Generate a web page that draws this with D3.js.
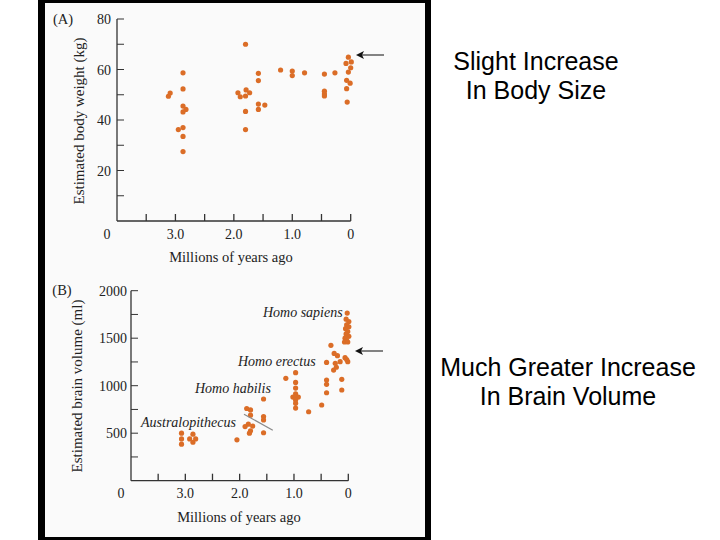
<!DOCTYPE html>
<html><head><meta charset="utf-8">
<script src="https://cdn.jsdelivr.net/npm/d3@7"></script>
<style>html,body{margin:0;padding:0;background:#fff;}svg{display:block;}</style>
</head><body>
<script>
// Panel A: estimated body weight (kg) vs millions of years ago
const weightAge = [3.12,3.09,2.87,2.87,2.87,2.82,2.87,2.95,2.87,2.87,2.87,
  1.80,1.93,1.89,1.79,1.73,1.80,1.80,1.80,1.58,1.58,1.58,1.58,1.47,
  1.20,1.00,1.00,0.79,0.45,0.45,0.45,0.45,0.27,
  0.04,0.08,-0.01,0.00,0.04,0.07,0.01,0.07,0.06];
const weightKg = [49.4,50.7,58.7,52.3,45.5,44.2,43.2,36.2,37.0,33.5,27.5,
  70.0,50.8,49.2,51.9,50.8,49.5,43.4,36.2,58.5,55.6,46.3,44.2,45.9,
  59.8,59.4,57.6,58.7,58.2,51.4,50.3,49.5,58.7,
  64.9,62.4,63.0,60.7,59.0,55.7,54.6,52.4,47.1];
// Panel B: estimated brain volume (ml) vs millions of years ago
const brainAge = [3.07,3.07,3.07,2.92,2.86,2.81,2.86,
  2.05,1.87,1.80,1.80,1.84,1.76,1.90,1.80,1.82,1.56,1.56,1.56,1.56,
  1.15,0.97,0.97,0.97,0.97,1.02,0.97,0.92,0.97,0.97,0.97,0.73,0.49,0.40,0.40,0.40,0.40,0.12,0.12,
  0.32,0.26,0.20,0.15,0.24,0.22,0.27,0.06,0.01,0.03,
  0.02,0.04,-0.01,0.03,-0.01,0.05,0.01,0.04,-0.01,0.06,0.03,0.07,0.01];
const brainMl = [500,440,385,440,490,440,405,
  430,760,745,690,595,575,570,525,500,860,675,640,505,
  1078,1137,1035,975,915,880,880,880,850,815,765,726,797,1245,1060,1015,926,1067,955,
  1425,1340,1316,1253,1236,1194,1165,1295,1253,1275,
  1765,1700,1675,1640,1620,1600,1570,1545,1520,1500,1475,1460,1460];
const xTickVals = [0,0.5,1,1.5,2,2.5,3,3.5];
const xTickLabels = {3:"3.0",2:"2.0",1:"1.0",0:"0"};
const weightTicks = [10,20,30,40,50,60,70,80];
const weightLabels = [20,40,60,80];
const brainTicks = [250,500,750,1000,1250,1500,1750,2000];
const brainLabels = [500,1000,1500,2000];
const speciesNames = ["Homo sapiens","Homo erectus","Homo habilis","Australopithecus"];
const captionsTop = ["Slight Increase","In Body Size"];
const captionsBottom = ["Much Greater Increase","In Brain Volume"];

const W=720,H=540;
const svg = d3.select("body").append("svg").attr("width",W).attr("height",H);
svg.append("rect").attr("width",W).attr("height",H).attr("fill","#fff");
svg.append("rect").attr("x",38).attr("y",0).attr("width",393).attr("height",540).attr("fill","#000");
svg.append("rect").attr("x",45).attr("y",3).attr("width",380).attr("height",534).attr("fill","#fafafa");

const serif = "'Liberation Serif','DejaVu Serif',serif";
const dotColor = "#db6d27";
const axisColor = "#333";

function panel(o){
  const x = d3.scaleLinear().domain([4,0]).range([o.x0,o.x1]);
  const y = d3.scaleLinear().domain([0,o.ymax]).range([o.y0,o.y1]);
  const g = svg.append("g");
  g.append("line").attr("x1",o.x0).attr("x2",o.x0).attr("y1",y(0)).attr("y2",y(o.ymax))
    .attr("stroke",axisColor).attr("stroke-width",1.3);
  g.append("line").attr("x1",o.x0).attr("x2",x(0)).attr("y1",y(0)).attr("y2",y(0))
    .attr("stroke",axisColor).attr("stroke-width",1.3);
  g.selectAll(".yt").data(o.yTicks).enter().append("line")
    .attr("x1",o.x0).attr("x2",o.x0+7).attr("y1",d=>y(d)).attr("y2",d=>y(d))
    .attr("stroke",axisColor).attr("stroke-width",1);
  g.selectAll(".yl").data(o.yLabels).enter().append("text")
    .attr("x",o.x0-o.ylabOff).attr("y",d=>y(d)+5).attr("text-anchor","end")
    .attr("font-family",serif).attr("font-size",14).attr("fill","#222").text(d=>d);
  g.selectAll(".xt").data(xTickVals).enter().append("line")
    .attr("x1",d=>x(d)).attr("x2",d=>x(d)).attr("y1",y(0)).attr("y2",y(0)-7)
    .attr("stroke",axisColor).attr("stroke-width",1.3);
  g.selectAll(".xl").data([3,2,1,0]).enter().append("text")
    .attr("x",d=>x(d)).attr("y",o.tickLabY).attr("text-anchor","middle")
    .attr("font-family",serif).attr("font-size",14).attr("fill","#222").text(d=>xTickLabels[d]);
  g.append("text").attr("x",o.x0-10).attr("y",o.tickLabY).attr("text-anchor","middle")
    .attr("font-family",serif).attr("font-size",14).attr("fill","#222").text("0");
  g.append("text").attr("x",o.xTitleX).attr("y",o.xTitleY).attr("text-anchor","middle")
    .attr("font-family",serif).attr("font-size",14.5).attr("fill","#222").text("Millions of years ago");
  g.append("text").attr("transform",`translate(${o.yTitleX},${o.yTitleY}) rotate(-90)`)
    .attr("text-anchor","middle").attr("font-family",serif).attr("font-size",15).attr("fill","#222").text(o.yTitle);
  g.append("text").attr("x",o.tagX).attr("y",o.tagY).attr("text-anchor","middle")
    .attr("font-family",serif).attr("font-size",14.5).attr("fill","#222").text(o.tag);
  g.selectAll("circle").data(o.ages.map((a,i)=>[a,o.vals[i]])).enter().append("circle")
    .attr("cx",d=>x(d[0])).attr("cy",d=>y(d[1])).attr("r",2.6).attr("fill",dotColor);
  g.append("line").attr("x1",o.arrowX+28).attr("x2",o.arrowX+6).attr("y1",o.arrowY).attr("y2",o.arrowY)
    .attr("stroke","#333").attr("stroke-width",1.2);
  g.append("path").attr("d",`M${o.arrowX},${o.arrowY} l8,-4 l-2,4 l2,4 z`).attr("fill","#111");
  return {x,y,g};
}

panel({x0:117,x1:350.7,y0:221,y1:19,ymax:80,yTicks:weightTicks,yLabels:weightLabels,ylabOff:6,
  tickLabY:239,xTitleX:231,xTitleY:262,yTitleX:84,yTitleY:121,yTitle:"Estimated body weight (kg)",
  tag:"(A)",tagX:63,tagY:24,ages:weightAge,vals:weightKg,arrowX:356,arrowY:55});

const pB = panel({x0:131,x1:348.3,y0:480.7,y1:290.7,ymax:2000,yTicks:brainTicks,yLabels:brainLabels,ylabOff:4,
  tickLabY:498,xTitleX:239,xTitleY:522,yTitleX:82,yTitleY:386,yTitle:"Estimated brain volume (ml)",
  tag:"(B)",tagX:62,tagY:295,ages:brainAge,vals:brainMl,arrowX:355,arrowY:351});

const spPos = [[342.7,317,"end"],[238,366,"start"],[195,393,"start"],[141,427,"start"]];
pB.g.selectAll(".sp").data(speciesNames).enter().append("text")
  .attr("x",(d,i)=>spPos[i][0]).attr("y",(d,i)=>spPos[i][1]).attr("text-anchor",(d,i)=>spPos[i][2])
  .attr("font-family",serif).attr("font-style","italic").attr("font-size",14).attr("fill","#222").text(d=>d);
pB.g.append("line").attr("x1",pB.x(1.92)).attr("y1",pB.y(700)).attr("x2",pB.x(1.39)).attr("y2",pB.y(530))
  .attr("stroke","#8a8a8a").attr("stroke-width",1.2);

const sans = "'Liberation Sans',Arial,sans-serif";
svg.selectAll(".c1").data(captionsTop).enter().append("text")
  .attr("x",536).attr("y",(d,i)=>70+i*29).attr("text-anchor","middle")
  .attr("font-family",sans).attr("font-size",25).attr("fill","#000").text(d=>d);
svg.selectAll(".c2").data(captionsBottom).enter().append("text")
  .attr("x",568).attr("y",(d,i)=>376+i*29).attr("text-anchor","middle")
  .attr("font-family",sans).attr("font-size",25).attr("fill","#000").text(d=>d);
</script>
</body></html>
